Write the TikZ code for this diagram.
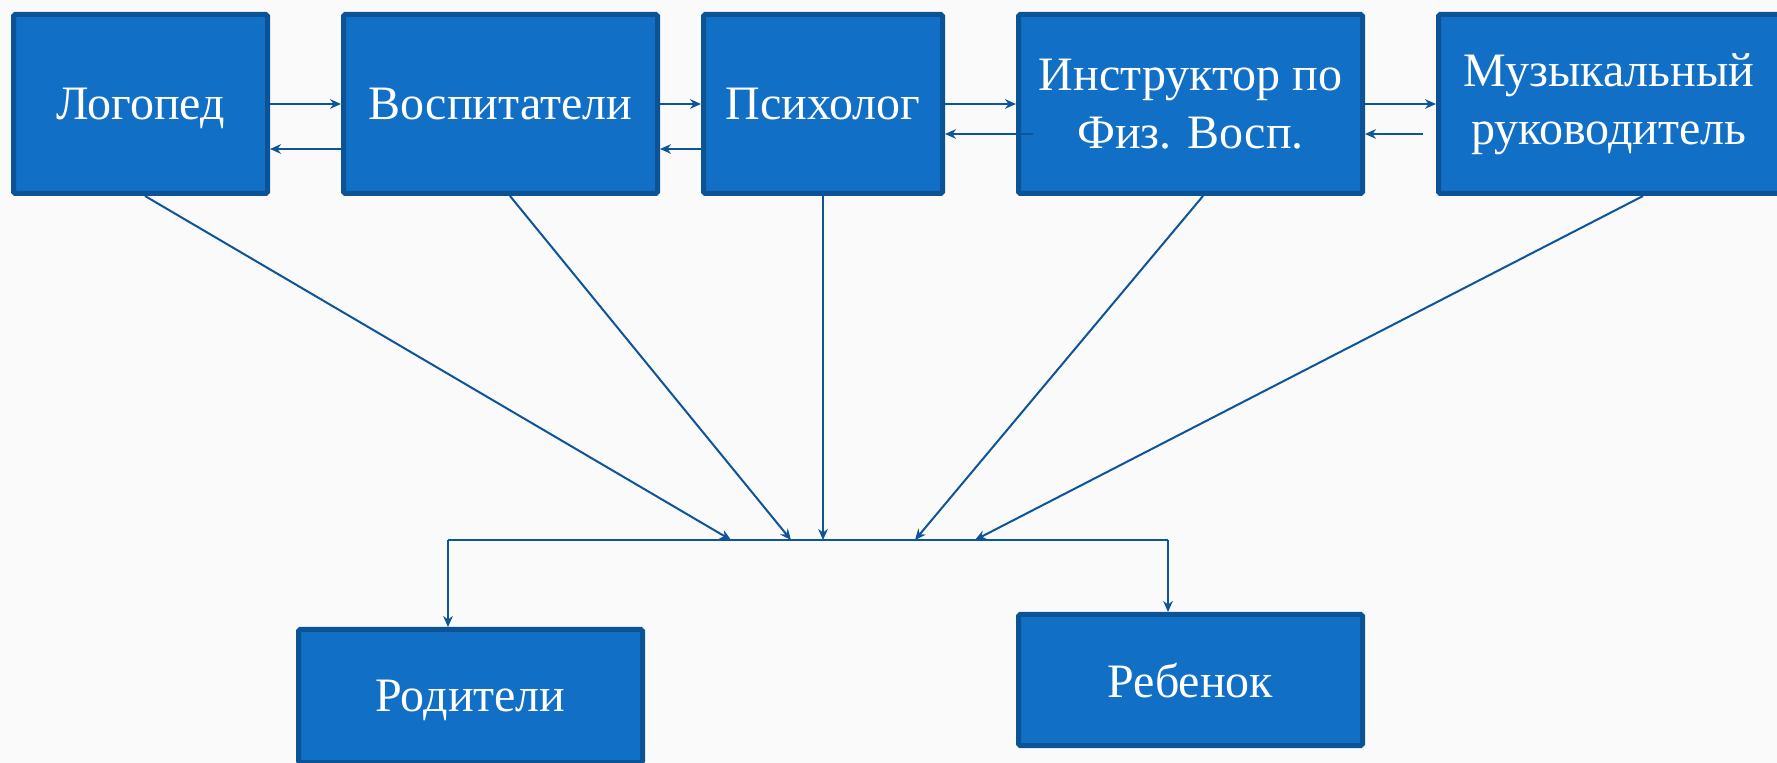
\documentclass[tikz,border=0pt]{standalone}
\usepackage{fontspec}
\setmainfont{Liberation Serif}
\usetikzlibrary{arrows.meta,calc}
\definecolor{boxfill}{RGB}{17,111,198}
\definecolor{boxline}{RGB}{12,83,150}
\definecolor{arrowcol}{RGB}{14,84,152}
\definecolor{bgcol}{RGB}{250,250,250}
\tikzset{
  px/.style={x=0.5pt,y=-0.5pt},
  blk/.style={draw=boxline,fill=boxfill,line width=2.5pt,rounded corners=0.8pt,
    text=white,font=\fontsize{24}{29}\selectfont,align=center,inner sep=0pt},
  oneline/.style={text depth=0pt},
  conn/.style={draw=arrowcol,line width=1pt},
  arr/.style={conn,-{Stealth[length=5.5pt,width=4.8pt,inset=1.8pt]}}
}
\begin{document}
\begin{tikzpicture}[px]
\fill[bgcol] (0,0) rectangle (1777,763);
\useasboundingbox (0,0) rectangle (1777,763);
% top row
\node[blk,oneline,minimum width=127pt,minimum height=89.5pt] (log) at (140.5,104) {Логопед};
\node[blk,oneline,minimum width=157pt,minimum height=89.5pt] (vos) at (500.5,104) {Воспитатели};
\node[blk,oneline,minimum width=119.5pt,minimum height=89.5pt] (psy) at (823,104) {Психолог};
\node[blk,minimum width=172pt,minimum height=89.5pt] (ins) at (1190.5,104) {Инструктор по\\Физ. Восп.};
\node[blk,minimum width=170.5pt,minimum height=89.5pt] (mus) at (1609,104) {Музыкальный\\руководитель};
% bottom
\node[blk,oneline,minimum width=172pt,minimum height=66.5pt] (par) at (470.5,696) {Родители};
\node[blk,oneline,minimum width=172pt,minimum height=65.5pt] (chi) at (1190.5,680) {Ребенок};
% horizontal arrows between top boxes
\draw[arr] (log.east) -- (vos.west);
\draw[arr] ($(vos.west)+(0,45)$) -- ($(log.east)+(0,45)$);
\draw[arr] (vos.east) -- (psy.west);
\draw[arr] ($(psy.west)+(0,45)$) -- ($(vos.east)+(0,45)$);
\draw[arr] (psy.east) -- (ins.west);
\draw[arr] ($(ins.west)+(17,30)$) -- ($(psy.east)+(0,30)$);
\draw[arr] (ins.east) -- (mus.west);
\draw[arr] ($(mus.west)+(-13,30)$) -- ($(ins.east)+(0,30)$);
% bus
\coordinate (busL) at (448,540);
\coordinate (busR) at (1168,540);
\coordinate (b1) at (731,540);
\coordinate (b2) at (791,540);
\coordinate (b3) at (823,540);
\coordinate (b4) at (915,540);
\coordinate (b5) at (975,540);
\draw[arr] ($(log.south)+(4.5,0)$) -- (b1);
\draw[arr] ($(vos.south)+(9.5,0)$) -- (b2);
\draw[arr] (psy.south) -- (b3);
\draw[arr] ($(ins.south)+(12.5,0)$) -- (b4);
\draw[arr] ($(mus.south)+(34,0)$) -- (b5);
\draw[conn] (busL) -- (busR);
\draw[arr] (busL) -- (busL |- par.north);
\draw[arr] (busR) -- (busR |- chi.north);
\end{tikzpicture}
\end{document}
